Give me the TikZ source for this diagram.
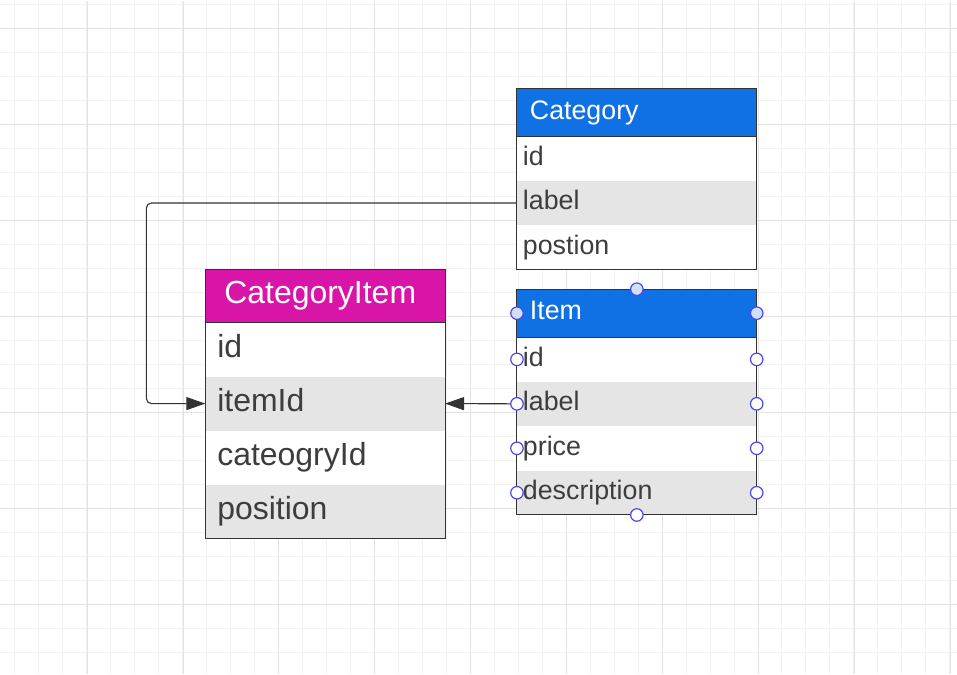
\documentclass[tikz,border=0pt]{standalone}
\usepackage{fontspec}
\setmainfont{Liberation Sans}
\usetikzlibrary{arrows.meta, calc, positioning}
\definecolor{hdrblue}{HTML}{1071E5}
\definecolor{hdrpink}{HTML}{D915A8}
\definecolor{rowgray}{HTML}{E5E5E5}
\definecolor{edge}{HTML}{333333}
\definecolor{txtgray}{HTML}{3D3D3D}
\definecolor{handleblue}{HTML}{4848F0}
\definecolor{handlefill}{HTML}{D2E0F7}
\definecolor{gridminor}{HTML}{F2F2F2}
\definecolor{gridmajor}{HTML}{E3E3E3}

\begin{document}
\begin{tikzpicture}[x=1pt, y=-1pt,
    hdr/.style={rectangle, draw=edge, line width=1pt, fill=hdrblue, text=white, font=\fontsize{26.8}{30}\selectfont, text width=214pt, inner xsep=13pt, minimum height=48pt, text height=20pt, text depth=6.5pt, outer sep=0pt, anchor=north west},
    field/.style={rectangle, fill=white, text=txtgray, font=\fontsize{26.8}{30}\selectfont, text width=228pt, inner xsep=6pt, minimum height=44.5pt, text height=20pt, text depth=6.5pt, outer sep=0pt},
    altfield/.style={field, fill=rowgray},
    bighdr/.style={hdr, fill=hdrpink, font=\fontsize{32}{36}\selectfont, text width=202pt, inner xsep=19pt, minimum height=53.5pt, text height=24pt, text depth=8pt},
    bigfield/.style={field, font=\fontsize{32}{36}\selectfont, text width=216pt, inner xsep=12pt, minimum height=54pt, text height=24pt, text depth=8pt},
    bigaltfield/.style={bigfield, fill=rowgray},
    outline/.style={draw=edge, line width=1pt},
    link/.style={draw=edge, line width=1.1pt, -{Triangle[length=19pt, width=13pt]}},
    handle/.style={circle, draw=handleblue, line width=1.2pt, fill=white, minimum size=12.5pt, inner sep=0pt}]

    \fill[white] (0,0) rectangle (957,674);
    \foreach \gx in {0,...,39} \draw[gridminor, line width=1pt] ({14.3+24*\gx},0) -- ({14.3+24*\gx},674);
    \foreach \gy in {0,...,27} \draw[gridminor, line width=1pt] (0,{4.3+24*\gy}) -- (957,{4.3+24*\gy});
    \foreach \gx in {0,...,9} \draw[gridmajor, line width=1pt] ({86.7+96*\gx},0) -- ({86.7+96*\gx},674);
    \foreach \gy in {0,...,6} \draw[gridmajor, line width=1pt] (0,{28.3+96*\gy}) -- (957,{28.3+96*\gy});

    \node[hdr] (cat) at (517,88) {Category};
    \node[field, below=0pt of cat] (catid) {id};
    \node[altfield, below=0pt of catid] (catlabel) {label};
    \node[field, below=0pt of catlabel] (catpos) {postion};
    \draw[outline] (cat.north west) rectangle (catpos.south east);
    \draw[outline] (cat.south west) -- (cat.south east);

    \node[hdr] (item) at (517,289) {Item};
    \node[field, below=0pt of item] (itemid) {id};
    \node[altfield, below=0pt of itemid] (itemlabel) {label};
    \node[field, below=0pt of itemlabel] (itemprice) {price};
    \node[altfield, below=0pt of itemprice] (itemdesc) {description};
    \draw[outline] (item.north west) rectangle (itemdesc.south east);
    \draw[outline] (item.south west) -- (item.south east);

    \node[bighdr] (ci) at (205,269) {CategoryItem};
    \node[bigfield, below=0pt of ci] (ciid) {id};
    \node[bigaltfield, below=0pt of ciid] (ciitem) {itemId};
    \node[bigfield, below=0pt of ciitem] (cicat) {cateogryId};
    \node[bigaltfield, below=0pt of cicat] (cipos) {position};
    \draw[outline] (ci.north west) rectangle (cipos.south east);
    \draw[outline] (ci.south west) -- (ci.south east);

    \coordinate (bend) at ([xshift=-59pt]ciitem.west);
    \draw[link, rounded corners=5pt] (catlabel.west) -| (bend) -- (ciitem.west);
    \draw[link] (itemlabel.west) -- (ciitem.east);

    \node[handle, fill=handlefill] (w-item) at (item.west) {};
    \node[handle, fill=handlefill] (e-item) at (item.east) {};
    \node[handle, fill=handlefill] (n-item) at (item.north) {};
    \node[handle] (s-item) at (itemdesc.south) {};
    \foreach \n in {itemid, itemlabel, itemprice, itemdesc} {
        \node[handle] (w-\n) at (\n.west) {};
        \node[handle] (e-\n) at (\n.east) {};
    }
\end{tikzpicture}
\end{document}
